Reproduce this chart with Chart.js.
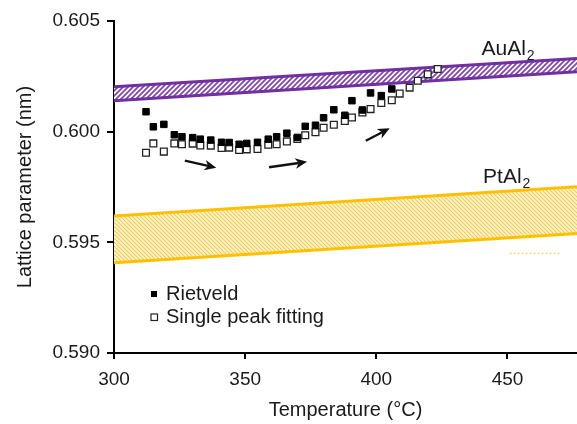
<!DOCTYPE html>
<html>
<head>
<meta charset="utf-8">
<script src="https://cdn.jsdelivr.net/npm/chart.js@4.4.0/dist/chart.umd.min.js"></script>
<style>
  html, body { margin: 0; padding: 0; background: #fff; }
  #wrap { width: 577px; height: 424px; }
</style>
</head>
<body>
<div id="wrap"><canvas id="latticeChart" width="577" height="424"></canvas></div>
<script>
// Temperature steps (°C) and refined lattice parameter (nm)
const rietveldTemps = [312.2, 315.0, 319.0, 323.0, 325.9, 330.0, 332.9, 336.9, 341.0, 343.9,
  347.7, 350.6, 354.7, 358.8, 362.0, 365.9, 369.9, 372.9, 376.8, 379.9,
  383.8, 388.0, 390.7, 394.7, 397.8, 401.9, 405.9];
const rietveldValues = [0.60090, 0.60022, 0.60033, 0.59986, 0.59977, 0.59973, 0.59966, 0.59962, 0.59952, 0.59951,
  0.59943, 0.59947, 0.59952, 0.59966, 0.59977, 0.59993, 0.59974, 0.60024, 0.60029, 0.60063,
  0.60099, 0.60074, 0.60140, 0.60098, 0.60175, 0.60163, 0.60193];

const peakFitTemps = [312.2, 315.0, 319.0, 323.0, 325.9, 330.0, 332.9, 336.9, 341.0, 343.9,
  347.7, 350.6, 354.7, 358.8, 362.0, 365.9, 369.9, 372.9, 376.8, 379.9,
  383.8, 388.0, 390.7, 394.7, 397.8, 401.9, 405.9, 408.9, 412.7, 415.8,
  419.6, 423.4];
const peakFitValues = [0.59905, 0.59947, 0.59910, 0.59947, 0.59943, 0.59946, 0.59938, 0.59937, 0.59926, 0.59928,
  0.59917, 0.59920, 0.59922, 0.59941, 0.59943, 0.59956, 0.59967, 0.59984, 0.59997, 0.60018,
  0.60031, 0.60048, 0.60064, 0.60087, 0.60102, 0.60130, 0.60142, 0.60172, 0.60199, 0.60230,
  0.60259, 0.60283];

// reference bands for the two phases, given at both ends of the temperature range
const bandTemps = [300, 476.5];
const auAl2Low = [0.60140, 0.60271];
const auAl2High = [0.60203, 0.60331];
const ptAl2Low = [0.59408, 0.59540];
const ptAl2High = [0.59619, 0.59751];
// short dotted stub under the PtAl2 band
const stubTemps = [450.8, 469.9];
const stubValues = [0.5945, 0.5945];

const xTicks = [300, 350, 400, 450];
const yTicks = [0.590, 0.595, 0.600, 0.605];

const FONT = '"Liberation Sans", Arial, sans-serif';
const INK = '#1a1a1a';
const PURPLE = '#7030a0';
const GOLD = '#ffc000';

const pts = (xs, ys) => xs.map((x, i) => ({ x: x, y: ys[i] }));

// diagonal hatch fill, dir 1 = "/" and -1 = "\"
function hatch(bg, fg, size, lw, dir) {
  const c = document.createElement('canvas');
  c.width = c.height = size;
  const g = c.getContext('2d');
  g.fillStyle = bg;
  g.fillRect(0, 0, size, size);
  g.strokeStyle = fg;
  g.lineWidth = lw;
  g.beginPath();
  if (dir > 0) {
    g.moveTo(-1, size + 1); g.lineTo(size + 1, -1);
    g.moveTo(-1, 1); g.lineTo(1, -1);
    g.moveTo(size - 1, size + 1); g.lineTo(size + 1, size - 1);
  } else {
    g.moveTo(-1, -1); g.lineTo(size + 1, size + 1);
    g.moveTo(size - 1, -1); g.lineTo(size + 1, 1);
    g.moveTo(-1, size - 1); g.lineTo(1, size + 1);
  }
  g.stroke();
  return g.createPattern(c, 'repeat');
}

// arrows showing the heating direction: [t0, v0, t1, v1]
const trendArrows = [
  [327.0, 0.59869, 339.0, 0.59837],
  [359.1, 0.59839, 373.6, 0.59864],
  [396.0, 0.59959, 405.1, 0.60015]
];

function drawArrow(ctx, x0, y0, x1, y1) {
  const a = Math.atan2(y1 - y0, x1 - x0);
  const len = 13, wing = 0.42;
  const back = len * 0.65;
  ctx.beginPath();
  ctx.moveTo(x0, y0);
  ctx.lineTo(x1 - back * Math.cos(a), y1 - back * Math.sin(a));
  ctx.stroke();
  ctx.beginPath();
  ctx.moveTo(x1, y1);
  ctx.lineTo(x1 - len * Math.cos(a - wing), y1 - len * Math.sin(a - wing));
  ctx.lineTo(x1 - back * Math.cos(a), y1 - back * Math.sin(a));
  ctx.lineTo(x1 - len * Math.cos(a + wing), y1 - len * Math.sin(a + wing));
  ctx.closePath();
  ctx.fill();
}

function phaseLabel(ctx, base, sub, px, py) {
  ctx.font = '21px ' + FONT;
  ctx.textAlign = 'left';
  ctx.textBaseline = 'alphabetic';
  ctx.fillText(base, px, py);
  const w = ctx.measureText(base).width;
  ctx.font = '14px ' + FONT;
  ctx.fillText(sub, px + w + 1, py + 5);
}

const overlay = {
  id: 'overlay',
  afterDatasetsDraw(chart) {
    const { ctx, chartArea, scales } = chart;
    const sx = scales.x, sy = scales.y;
    ctx.save();

    ctx.strokeStyle = '#111';
    ctx.fillStyle = '#111';
    ctx.lineWidth = 2.4;
    trendArrows.forEach(([t0, v0, t1, v1]) => {
      drawArrow(ctx, sx.getPixelForValue(t0), sy.getPixelForValue(v0),
        sx.getPixelForValue(t1), sy.getPixelForValue(v1));
    });

    ctx.fillStyle = INK;
    phaseLabel(ctx, 'AuAl', '2', sx.getPixelForValue(440.1), sy.getPixelForValue(0.60346));
    phaseLabel(ctx, 'PtAl', '2', sx.getPixelForValue(440.7), sy.getPixelForValue(0.59767));

    // legend, lower left inside the plot
    const lx = chartArea.left + 40;
    const tx = chartArea.left + 52;
    ctx.fillStyle = '#000';
    ctx.fillRect(lx - 3, 291, 6, 6);
    ctx.strokeStyle = '#222';
    ctx.lineWidth = 1.2;
    ctx.fillStyle = '#fff';
    ctx.fillRect(lx - 3, 314, 6.5, 6.5);
    ctx.strokeRect(lx - 3, 314, 6.5, 6.5);
    ctx.fillStyle = INK;
    ctx.font = '20px ' + FONT;
    ctx.textBaseline = 'middle';
    ctx.fillText('Rietveld', tx, 294);
    ctx.fillText('Single peak fitting', tx, 317);

    ctx.restore();
  }
};

const ctx = document.getElementById('latticeChart').getContext('2d');
new Chart(ctx, {
  type: 'scatter',
  data: {
    datasets: [
      {
        label: 'Rietveld',
        data: pts(rietveldTemps, rietveldValues),
        pointStyle: 'rect',
        pointRadius: 4.6,
        backgroundColor: '#000',
        borderColor: '#000',
        borderWidth: 1
      },
      {
        label: 'Single peak fitting',
        data: pts(peakFitTemps, peakFitValues),
        pointStyle: 'rect',
        pointRadius: 4.8,
        backgroundColor: '#fff',
        borderColor: '#222',
        borderWidth: 1.3
      },
      {
        type: 'line',
        label: 'AuAl2 low',
        data: pts(bandTemps, auAl2Low),
        borderColor: PURPLE,
        borderWidth: 3,
        pointRadius: 0,
        fill: false
      },
      {
        type: 'line',
        label: 'AuAl2 high',
        data: pts(bandTemps, auAl2High),
        borderColor: PURPLE,
        borderWidth: 3,
        pointRadius: 0,
        fill: '-1',
        backgroundColor: hatch('#ffffff', '#8148b4', 5, 1.8, 1)
      },
      {
        type: 'line',
        label: 'PtAl2 low',
        data: pts(bandTemps, ptAl2Low),
        borderColor: GOLD,
        borderWidth: 3,
        pointRadius: 0,
        fill: false
      },
      {
        type: 'line',
        label: 'PtAl2 high',
        data: pts(bandTemps, ptAl2High),
        borderColor: GOLD,
        borderWidth: 3,
        pointRadius: 0,
        fill: '-1',
        backgroundColor: hatch('#fff5d6', '#f5cb4e', 4, 1.2, -1)
      },
      {
        type: 'line',
        label: 'stub',
        data: pts(stubTemps, stubValues),
        borderColor: '#f4d77a',
        borderWidth: 1.5,
        borderDash: [2, 2],
        pointRadius: 0,
        fill: false
      }
    ]
  },
  options: {
    responsive: false,
    animation: false,
    devicePixelRatio: 1,
    layout: { autoPadding: false, padding: { top: 21, right: 0, bottom: 0, left: 0 } },
    plugins: {
      legend: { display: false },
      tooltip: { enabled: false }
    },
    scales: {
      x: {
        type: 'linear',
        min: 300,
        max: 476.5,
        afterBuildTicks: s => { s.ticks = xTicks.map(v => ({ value: v })); },
        afterFit: s => { s.height = 71; s.paddingLeft = 0; s.paddingRight = 0; },
        ticks: {
          includeBounds: false,
          padding: 9,
          color: INK,
          font: { family: FONT, size: 19 }
        },
        grid: { drawOnChartArea: false, drawTicks: true, tickLength: 6, color: '#000', lineWidth: 2 },
        border: { color: '#000', width: 2 },
        title: {
          display: true,
          text: 'Temperature (°C)',
          color: INK,
          font: { family: FONT, size: 20 },
          padding: { top: 0, bottom: 2 }
        }
      },
      y: {
        type: 'linear',
        min: 0.590,
        max: 0.605,
        afterBuildTicks: s => { s.ticks = yTicks.map(v => ({ value: v })); },
        afterFit: s => { s.width = 114; s.paddingTop = 0; s.paddingBottom = 0; },
        ticks: {
          padding: 7,
          color: INK,
          font: { family: FONT, size: 19 },
          callback: v => v.toFixed(3)
        },
        grid: { drawOnChartArea: false, drawTicks: true, tickLength: 7, color: '#000', lineWidth: 2 },
        border: { color: '#000', width: 2 },
        title: {
          display: true,
          text: 'Lattice parameter (nm)',
          color: INK,
          font: { family: FONT, size: 20 },
          padding: { top: 13, bottom: 0 }
        }
      }
    }
  },
  plugins: [overlay]
});
</script>
</body>
</html>
